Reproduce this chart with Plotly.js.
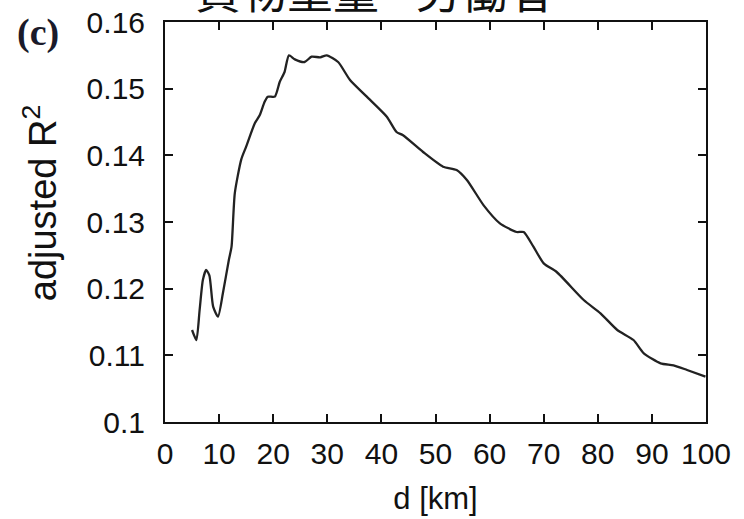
<!DOCTYPE html>
<html>
<head>
<meta charset="utf-8">
<script src="https://cdn.plot.ly/plotly-3.0.1.min.js"></script>
<style>html,body{margin:0;padding:0;background:#fff;}#chart{width:744px;height:519px;}</style>
</head>
<body>
<div id="chart"></div>
<script>
const distanceKm = [5.0, 5.8, 6.4, 7.0, 7.6, 8.2, 8.9, 9.8, 10.7, 11.8, 12.3, 12.9, 14.1, 15.0, 16.6, 17.5, 18.4, 19.0, 20.3, 21.2, 22.1, 22.9, 24.0, 25.8, 27.1, 28.7, 29.9, 32.0, 34.2, 37.3, 41.0, 42.8, 44.0, 47.7, 51.4, 53.9, 55.8, 58.9, 61.9, 65.0, 66.3, 68.1, 70.0, 72.4, 77.4, 80.5, 83.6, 86.6, 88.5, 91.6, 94.0, 96.5, 99.9];
const adjustedR2 = [0.1138, 0.1123, 0.1168, 0.1213, 0.1228, 0.1220, 0.1173, 0.1158, 0.1193, 0.1243, 0.1263, 0.1343, 0.1394, 0.1413, 0.1448, 0.1460, 0.1480, 0.1488, 0.1488, 0.1510, 0.1525, 0.1550, 0.1544, 0.1540, 0.1548, 0.1547, 0.1550, 0.1540, 0.1513, 0.1488, 0.1458, 0.1435, 0.1430, 0.1405, 0.1383, 0.1378, 0.1363, 0.1325, 0.1298, 0.1285, 0.1285, 0.1263, 0.1238, 0.1225, 0.1183, 0.1163, 0.1138, 0.1123, 0.1103, 0.1088, 0.1085, 0.1078, 0.1068];
const xTicks = [0, 10, 20, 30, 40, 50, 60, 70, 80, 90, 100];
const yTicks = [0.1, 0.11, 0.12, 0.13, 0.14, 0.15, 0.16];
const yTickText = ['0.1', '0.11', '0.12', '0.13', '0.14', '0.15', '0.16'];
const chartTitle = '貨物重量 - 労働者';
const panelLabel = '(c)';
const xTitle = 'd [km]';
const yTitle = 'adjusted R<sup>2</sup>';

const sans = 'Liberation Sans, Arial, sans-serif';
const tickFont = {family: sans, size: 30, color: '#111'};

const trace = {
  x: distanceKm, y: adjustedR2, type: 'scatter', mode: 'lines',
  line: {color: '#222', width: 2.3, shape: 'spline', smoothing: 0.6},
  showlegend: false, hoverinfo: 'x+y'
};

const axisCommon = {
  showgrid: false, zeroline: false, showline: true, linecolor: '#111', linewidth: 2,
  mirror: 'ticks', ticks: 'inside', ticklen: 8, tickwidth: 2, tickcolor: '#111',
  tickfont: tickFont
};

const layout = {
  width: 744, height: 519,
  margin: {l: 165, r: 38, t: 22, b: 97, pad: 0},
  paper_bgcolor: '#fff', plot_bgcolor: '#fff',
  xaxis: Object.assign({}, axisCommon, {
    range: [0, 100], tickvals: xTicks, ticktext: xTicks.map(String),
    ticklabelstandoff: 4,
    title: {text: xTitle, font: {family: sans, size: 31, color: '#111'}, standoff: 18}
  }),
  yaxis: Object.assign({}, axisCommon, {
    range: [0.1, 0.16], tickvals: yTicks, ticktext: yTickText,
    ticklabelstandoff: 12
  }),
  annotations: [
    {text: chartTitle, xref: 'paper', yref: 'paper', x: 0.388, y: 1.085, xanchor: 'center', yanchor: 'middle',
     showarrow: false, font: {family: 'Noto Sans CJK JP, sans-serif', size: 46, color: '#111'}},
    {text: '<b>' + panelLabel + '</b>', xref: 'paper', yref: 'paper', x: -0.235, y: 0.975, xanchor: 'center', yanchor: 'middle',
     showarrow: false, font: {family: 'Liberation Serif, Times New Roman, serif', size: 38, color: '#1a1a2a'}},
    {text: yTitle, xref: 'paper', yref: 'paper', x: -0.231, y: 0.547, xanchor: 'center', yanchor: 'middle',
     textangle: -90, showarrow: false, font: {family: sans, size: 38, color: '#111'}}
  ]
};

Plotly.newPlot('chart', [trace], layout, {displayModeBar: false, staticPlot: true});
</script>
</body>
</html>
